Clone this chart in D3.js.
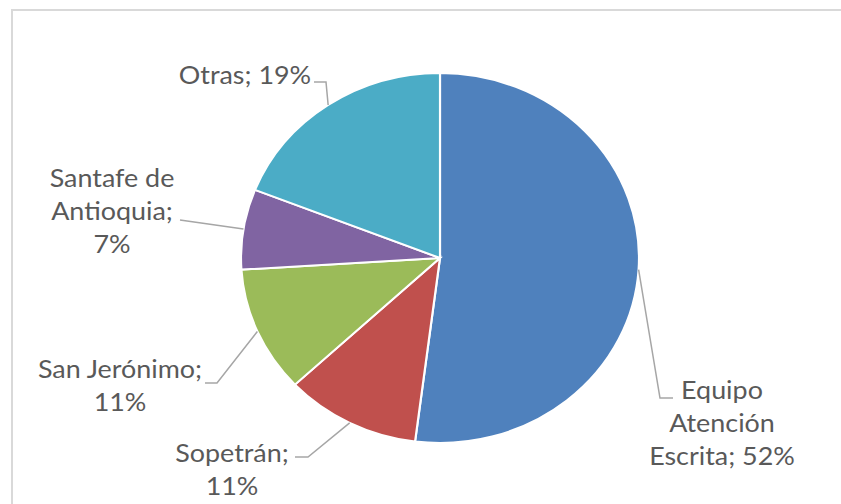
<!DOCTYPE html>
<html>
<head>
<meta charset="utf-8">
<script src="https://cdn.jsdelivr.net/npm/d3@7"></script>
<style>
  body { margin: 0; background: #fff; }
  svg text { font-family: Lato, "Open Sans", sans-serif; fill: #595959; }
</style>
</head>
<body>
<div id="graph"></div>
<script>
var categories = ['Equipo Atención Escrita', 'Sopetrán', 'San Jerónimo', 'Santafe de Antioquia', 'Otras']
var values = [52, 11, 11, 7, 19]
var labelLines = [
  ['Equipo', 'Atención', 'Escrita; 52%'],
  ['Sopetrán;', '11%'],
  ['San Jerónimo;', '11%'],
  ['Santafe de', 'Antioquia;', '7%'],
  ['Otras; 19%']
]
var colors = ['#4f81bd', '#c0504d', '#9bbb59', '#8064a2', '#4bacc6']

// where excel put each label (text center, first baseline) and leader elbow
var labelLayout = [
  {x: 722, y: 399, elbow: [[660, 398], [673, 398]]},
  {x: 232, y: 462, elbow: [[308, 457], [295, 457]]},
  {x: 120, y: 378, elbow: [[217, 383], [205, 383]]},
  {x: 112, y: 187, elbow: [[180, 220]]},
  {x: 245, y: 84, elbow: [[326, 82], [314, 82]]}
]

var width = 841, height = 504
var cx = 440, cy = 258, rx = 199, ry = 185

var svg = d3.select('#graph').append('svg')
    .attr('width', width)
    .attr('height', height)

svg.append('rect')
    .attr('x', 12).attr('y', 10)
    .attr('width', 900).attr('height', 600)
    .attr('fill', 'none')
    .attr('stroke', '#d9d9d9')
    .attr('stroke-width', 2)

var pie = d3.pie().sort(null).value(function(d){ return d })
var arcs = pie(values)

var arc = d3.arc().innerRadius(0).outerRadius(ry)

svg.append('g')
    .attr('transform', 'translate(' + cx + ',' + cy + ') scale(' + (rx / ry) + ',1)')
  .selectAll('path')
  .data(arcs)
  .enter().append('path')
    .attr('d', arc)
    .attr('fill', function(d, i){ return colors[i] })
    .attr('stroke', '#fff')
    .attr('stroke-width', 2)

function edgePoint(d){
  var a = (d.startAngle + d.endAngle) / 2
  return [cx + rx * Math.sin(a), cy - ry * Math.cos(a)]
}

var line = d3.line()

svg.selectAll('path.leader')
  .data(arcs)
  .enter().append('path')
    .attr('class', 'leader')
    .attr('d', function(d, i){ return line([edgePoint(d)].concat(labelLayout[i].elbow)) })
    .attr('fill', 'none')
    .attr('stroke', '#a6a6a6')
    .attr('stroke-width', 1.5)

var labels = svg.selectAll('text.label')
  .data(categories)
  .enter().append('text')
    .attr('class', 'label')
    .attr('text-anchor', 'middle')
    .style('font-size', '25px')
    .attr('transform', function(d, i){
      return 'translate(' + labelLayout[i].x + ',' + labelLayout[i].y + ') scale(' + (rx / ry) + ',1)'
    })

labels.selectAll('tspan')
  .data(function(d, i){ return labelLines[i] })
  .enter().append('tspan')
    .attr('x', 0)
    .attr('y', function(d, j){ return j * 33 })
    .text(function(d){ return d })
</script>
</body>
</html>
